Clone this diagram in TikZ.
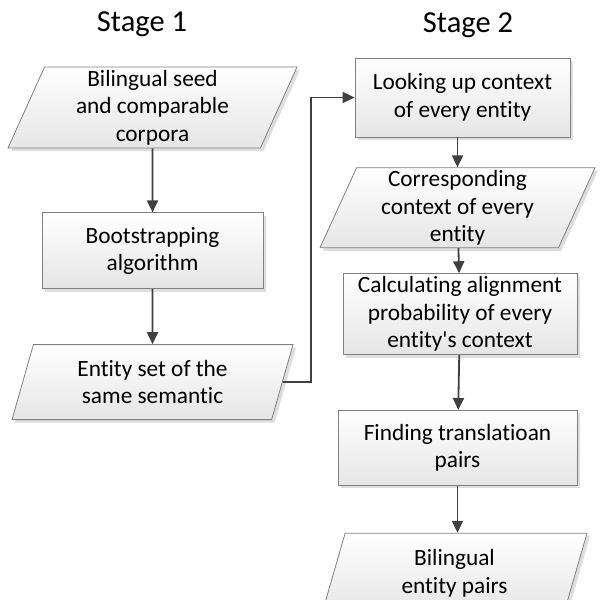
\documentclass[tikz,border=0pt]{standalone}
\usepackage{fontspec}
\setmainfont{Carlito}[Ligatures={NoCommon}]
\usepackage{tikz}
\usetikzlibrary{arrows.meta,positioning,shapes.geometric,shadows}

\begin{document}
\begin{tikzpicture}[
x=1pt, y=1pt,
font=\fontsize{23.3}{27.5}\selectfont,
node distance=30pt,
stepbox/.style={draw=black!50, line width=0.8pt, top color=white, bottom color=black!10, drop shadow={shadow xshift=3pt, shadow yshift=-3pt, fill=black!13, opacity=1}, align=center, inner sep=1pt},
databox/.style={stepbox, trapezium, trapezium left angle=64, trapezium right angle=116, trapezium stretches body, inner sep=0pt},
stagelabel/.style={font=\fontsize{30.5}{34}\selectfont},
arr/.style={-{Triangle[length=12pt,width=11pt]}, line width=1.8pt, draw=black!75}
]
\useasboundingbox (0,0) rectangle (601,-599);
\node[stagelabel] (stage1) at (142,-24) {Stage 1};
\node[stagelabel] (stage2) at (468,-25) {Stage 2};
% stage 1
\node[databox, minimum width=289pt, minimum height=81pt] (seed) at (152.5,-107.5) {Bilingual seed\\and comparable\\corpora};
\node[stepbox, minimum width=221pt, minimum height=76pt, below=64pt of seed] (boot) {Bootstrapping\\algorithm};
\node[databox, minimum width=281pt, minimum height=75pt, below=55pt of boot] (entset) {Entity set of the\\same semantic};
% stage 2
\node[stepbox, minimum width=215pt, minimum height=79pt] (look) at (462.5,-97.5) {Looking up context\\of every entity};
\node[databox, minimum width=275pt, minimum height=80pt, below=30pt of look, xshift=-5pt] (corr) {Corresponding\\context of every\\entity};
\node[stepbox, minimum width=234pt, minimum height=81pt, below=25pt of corr, xshift=2.5pt] (calc) {Calculating alignment\\probability of every\\entity\textquotesingle s context};
\node[stepbox, minimum width=239pt, minimum height=75pt, below=55pt of calc, xshift=-2.5pt] (find) {Finding translatioan\\pairs};
\node[databox, minimum width=265pt, minimum height=80pt, below=47pt of find, xshift=-3pt] (pairs) {Bilingual\\entity pairs};
\draw[arr] (seed) -- (boot);
\draw[arr] (boot) -- (entset);
\draw[arr] (entset.east) -- ++(28pt,0) |- (look.west);
\draw[arr] (look.south -| corr.north) -- (corr.north);
\draw[arr] (corr) -- (calc);
\draw[arr] (calc) -- (find);
\draw[arr] (find) -- (pairs.north -| find.south);
\end{tikzpicture}
\end{document}
